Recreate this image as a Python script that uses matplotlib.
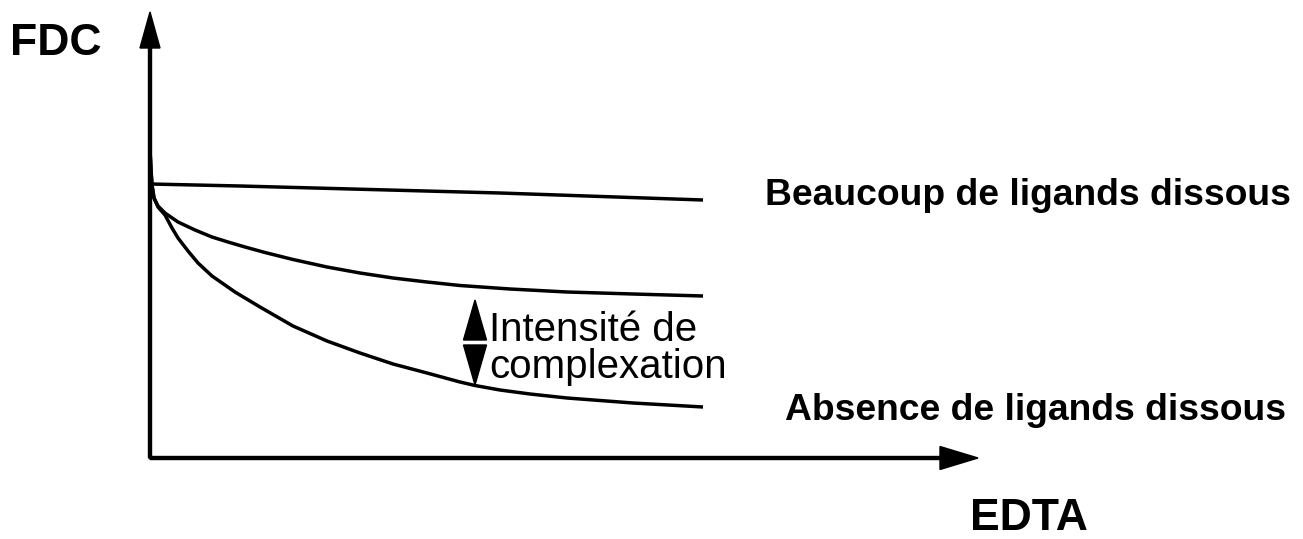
import matplotlib
matplotlib.use("Agg")
import matplotlib.pyplot as plt

plt.rcParams['font.family'] = ['Liberation Sans', 'DejaVu Sans']

# curve points (EDTA, FDC) in arbitrary units
edta_top = [0, 90, 350, 553]
fdc_top = [274, 272, 265, 258]

edta_mid = [0, 1, 2, 4, 8, 15, 28, 45, 62, 78, 95, 115, 143, 177, 210, 243,
            277, 310, 360, 417, 483, 553]
fdc_mid = [308, 288, 273, 260, 252, 245, 236, 228, 221, 216, 211, 205.5, 198.5,
           191, 185, 180, 176, 172.5, 169, 166, 164, 162]

edta_low = [0, 1, 2, 4, 8, 15, 22, 28, 38, 48, 62, 85, 110, 143, 177, 210, 243,
            277, 310, 325, 350, 380, 417, 483, 553]
fdc_low = [308, 288, 273, 260, 251, 243, 230, 220, 207, 195, 182, 166, 151, 132,
           117, 105, 94, 85, 76, 72.5, 68, 64, 60, 55, 51]

# axis extents
x_axis_end = 828
y_axis_end = 446

# double arrow for "Intensité de complexation"
arrow_x = 325
arrow_top = 158
arrow_bottom = 73

fig = plt.figure(figsize=(13.03, 5.39), dpi=100)
ax = fig.add_axes([0, 0, 1, 1])
ax.set_xlim(-150, 1153)
ax.set_ylim(-81, 458)
ax.axis('off')

lw = 2.5
for xs, ys in [(edta_top, fdc_top), (edta_mid, fdc_mid), (edta_low, fdc_low)]:
    ax.plot(xs, ys, color='black', lw=lw, solid_capstyle='butt',
            solid_joinstyle='round')

# axes with arrows
ax.arrow(0, 0, 0, y_axis_end, width=3, head_width=20, head_length=36,
         length_includes_head=True, fc='black', ec='black')
ax.arrow(0, 0, x_axis_end, 0, width=3, head_width=23, head_length=38,
         length_includes_head=True, fc='black', ec='black')

# double arrow
mid = (arrow_top + arrow_bottom) / 2
gap = 2.5
ax.arrow(arrow_x, mid + gap, 0, arrow_top - mid - gap, width=0.5, head_width=23,
         head_length=arrow_top - mid - gap, length_includes_head=True,
         fc='black', ec='black')
ax.arrow(arrow_x, mid - gap, 0, arrow_bottom - mid + gap, width=0.5, head_width=23,
         head_length=mid - gap - arrow_bottom, length_includes_head=True,
         fc='black', ec='black')

ax.text(339, 147, 'Intensité de\ncomplexation', fontsize=29, va='top', ha='left',
        linespacing=0.95)
ax.text(615, 253, 'Beaucoup de ligands dissous', fontsize=26.8, fontweight='bold',
        va='baseline', ha='left')
ax.text(635, 38, 'Absence de ligands dissous', fontsize=26.8, fontweight='bold',
        va='baseline', ha='left')
ax.text(-140, 403, 'FDC', fontsize=32, fontweight='bold', va='baseline', ha='left')
ax.text(820, -72, 'EDTA', fontsize=32, fontweight='bold', va='baseline', ha='left')

fig.savefig('out.png', dpi=100)
